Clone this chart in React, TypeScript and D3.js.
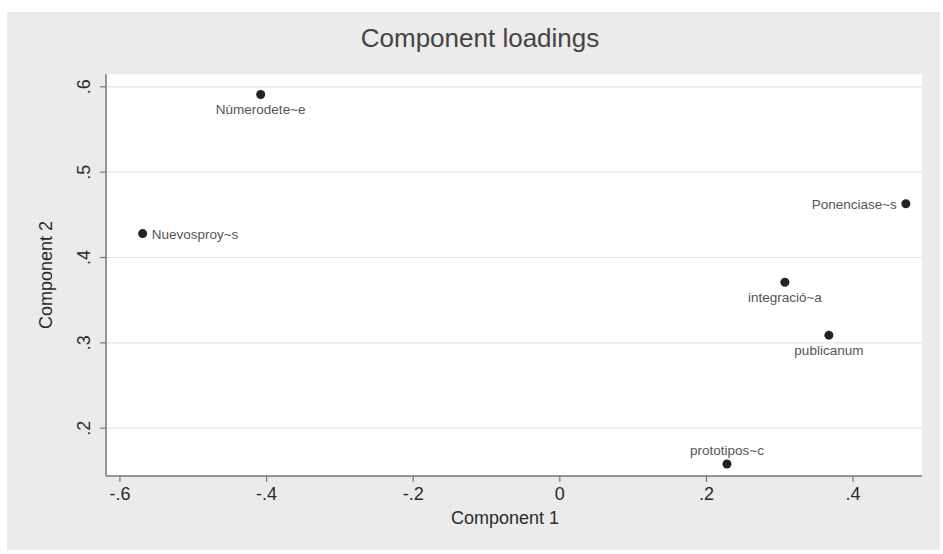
import React from "react";
import * as d3 from "d3";

const labels = ["Númerodete~e", "Nuevosproy~s", "Ponenciase~s", "integració~a", "publicanum", "prototipos~c"];
const comp1 = [-0.408, -0.569, 0.472, 0.307, 0.367, 0.228];
const comp2 = [0.591, 0.428, 0.463, 0.371, 0.309, 0.158];
const labelPos = ["below", "right", "left", "below", "below", "above"];
const xTicks = [-0.6, -0.4, -0.2, 0, 0.2, 0.4];
const yTicks = [0.2, 0.3, 0.4, 0.5, 0.6];

const fmt = (v: number) => {
  if (v === 0) return "0";
  const s = Math.abs(v).toFixed(1).replace(/^0\./, ".");
  return v < 0 ? "-" + s : s;
};

export default function App() {
  const W = 943, H = 554;
  const L = 106, R = 922, T = 74, B = 476;
  const x = d3.scaleLinear().domain([-0.619, 0.494]).range([L, R]);
  const y = d3.scaleLinear().domain([0.144, 0.615]).range([B, T]);
  const font = "Liberation Sans, Arial, sans-serif";
  return (
    <svg width={W} height={H} style={{ position: "absolute", left: 0, top: 0 }} fontFamily={font}>
      <rect x={0} y={0} width={W} height={H} fill="#ffffff" />
      <rect x={7} y={12} width={933} height={538} fill="#ebebeb" />
      <text x={480} y={47} textAnchor="middle" fontSize={26} fill="#444">Component loadings</text>
      <rect x={L} y={T} width={R - L} height={B - T} fill="#ffffff" />
      {yTicks.map((t) => (
        <line key={"g" + t} x1={L} x2={R} y1={y(t)} y2={y(t)} stroke="#e6e6e6" strokeWidth={1.2} />
      ))}
      <line x1={L} x2={L} y1={T} y2={B} stroke="#777" strokeWidth={1.5} />
      <line x1={L} x2={R} y1={B} y2={B} stroke="#777" strokeWidth={1.5} />
      {yTicks.map((t) => (
        <g key={"y" + t}>
          <line x1={L - 6} x2={L} y1={y(t)} y2={y(t)} stroke="#777" strokeWidth={1.2} />
          <text transform={`translate(${L - 22},${y(t)}) rotate(-90)`} textAnchor="middle" dy="0.35em" fontSize={18} fill="#2a2a2a">{fmt(t)}</text>
        </g>
      ))}
      {xTicks.map((t) => (
        <g key={"x" + t}>
          <line x1={x(t)} x2={x(t)} y1={B} y2={B + 6} stroke="#777" strokeWidth={1.2} />
          <text x={x(t)} y={B + 24} textAnchor="middle" fontSize={18} fill="#2a2a2a">{fmt(t)}</text>
        </g>
      ))}
      <text x={505} y={524} textAnchor="middle" fontSize={18} fill="#2a2a2a">Component 1</text>
      <text transform={`translate(52,${(T + B) / 2}) rotate(-90)`} textAnchor="middle" fontSize={18} fill="#2a2a2a">Component 2</text>
      {labels.map((lab, i) => {
        const cx = x(comp1[i]), cy = y(comp2[i]);
        const pos = labelPos[i];
        let tx = cx, ty = cy, anchor = "middle";
        if (pos === "below") ty = cy + 20;
        if (pos === "above") ty = cy - 9;
        if (pos === "right") { tx = cx + 9; ty = cy + 5; anchor = "start"; }
        if (pos === "left") { tx = cx - 9; ty = cy + 5; anchor = "end"; }
        return (
          <g key={lab}>
            <circle cx={cx} cy={cy} r={4.5} fill="#222" />
            <text x={tx} y={ty} textAnchor={anchor} fontSize={13.5} fill="#555">{lab}</text>
          </g>
        );
      })}
    </svg>
  );
}
